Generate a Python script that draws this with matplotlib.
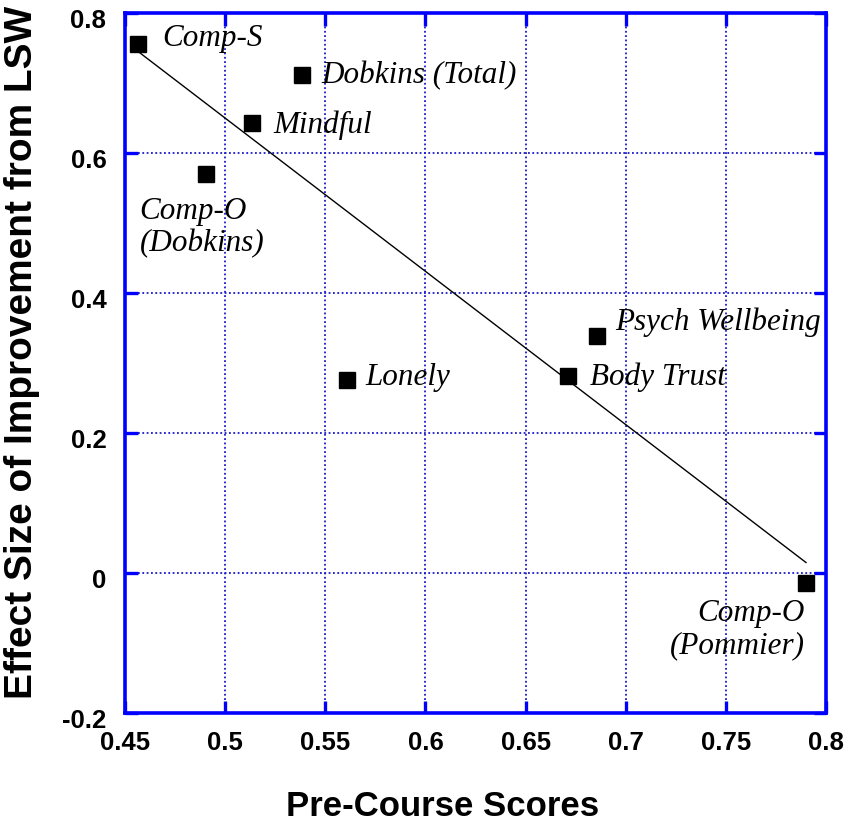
import matplotlib
matplotlib.use("Agg")
import matplotlib.pyplot as plt
import matplotlib.transforms as mtransforms

# ---- data ----
labels = ["Comp-S", "Dobkins (Total)", "Mindful", "Comp-O\n(Dobkins)",
          "Lonely", "Body Trust", "Psych Wellbeing", "Comp-O\n(Pommier)"]
pre_scores = [0.4566, 0.5384, 0.5134, 0.4903, 0.5607, 0.6712, 0.6857, 0.7900]
effect_sizes = [0.756, 0.711, 0.643, 0.570, 0.276, 0.281, 0.338, -0.014]
trend_x = [0.457, 0.790]
trend_y = [0.744, 0.015]
x_ticks = [0.45, 0.5, 0.55, 0.6, 0.65, 0.7, 0.75, 0.8]
x_tick_labels = ["0.45", "0.5", "0.55", "0.6", "0.65", "0.7", "0.75", "0.8"]
y_ticks = [-0.2, 0, 0.2, 0.4, 0.6, 0.8]
y_tick_labels = ["-0.2", "0", "0.2", "0.4", "0.6", "0.8"]

# label placement (pixel offsets from marker to last-line baseline: dx right, dy down)
label_offsets = [(24.4, 2.6), (19.5, 7.8), (21, 10.5), (-66, 77.4),
                 (19, 5), (22, 8.7), (18, -6.5), (-1, 70)]
label_ha = ["left", "left", "left", "left", "left", "left", "left", "right"]

BLUE = "#0000ff"
W, H = 851, 827
fig = plt.figure(figsize=(W / 100, H / 100), dpi=100)
ax = fig.add_axes([125 / W, (H - 713) / H, 701 / W, 700 / H])

ax.set_xlim(0.45, 0.8)
ax.set_ylim(-0.2, 0.8)

ax.grid(True, color="#1a1acc", linestyle=(0, (1, 1.4)), linewidth=1.3)
ax.set_axisbelow(True)

ax.plot(trend_x, trend_y, color="black", linewidth=1.0, zorder=3)
ax.plot(pre_scores, effect_sizes, linestyle="none", marker="s",
        markersize=12, color="black", zorder=4)

pt = 0.72
for lab, x, y, (dx, dy), ha in zip(labels, pre_scores, effect_sizes,
                                    label_offsets, label_ha):
    ax.annotate(lab, (x, y), xytext=(dx * pt, -dy * pt),
                textcoords="offset points", ha=ha, va="baseline",
                multialignment=ha, family="Liberation Serif",
                style="italic", fontsize=22.4, linespacing=1.15, zorder=5)

for sp in ax.spines.values():
    sp.set_color(BLUE)
    sp.set_linewidth(2.6)

ax.set_xticks(x_ticks)
ax.set_xticklabels(x_tick_labels)
ax.set_yticks(y_ticks)
ax.set_yticklabels(y_tick_labels)
ax.tick_params(which="major", direction="in", length=9, width=2.4,
               color=BLUE, top=True, right=True, labelsize=18.5)
ax.tick_params(axis="x", pad=13)
ax.tick_params(axis="y", pad=13.5)
for t in ax.get_xticklabels() + ax.get_yticklabels():
    t.set_family("Liberation Sans")
    t.set_fontweight("bold")
off = mtransforms.ScaledTranslation(0, -5 / 100, fig.dpi_scale_trans)
for t in ax.get_yticklabels():
    t.set_transform(t.get_transform() + off)

ax.set_xlabel("Pre-Course Scores", family="Liberation Sans",
              fontweight="bold", fontsize=25, va="baseline")
ax.xaxis.set_label_coords((442.5 - 125) / 701, (713 - 816) / 700)
ax.set_ylabel("Effect Size of Improvement from LSW", family="Liberation Sans",
              fontweight="bold", fontsize=28, va="baseline")
ax.yaxis.set_label_coords((32 - 125) / 701, (713 - 352.5) / 700)

fig.savefig("out.png", dpi=100)
